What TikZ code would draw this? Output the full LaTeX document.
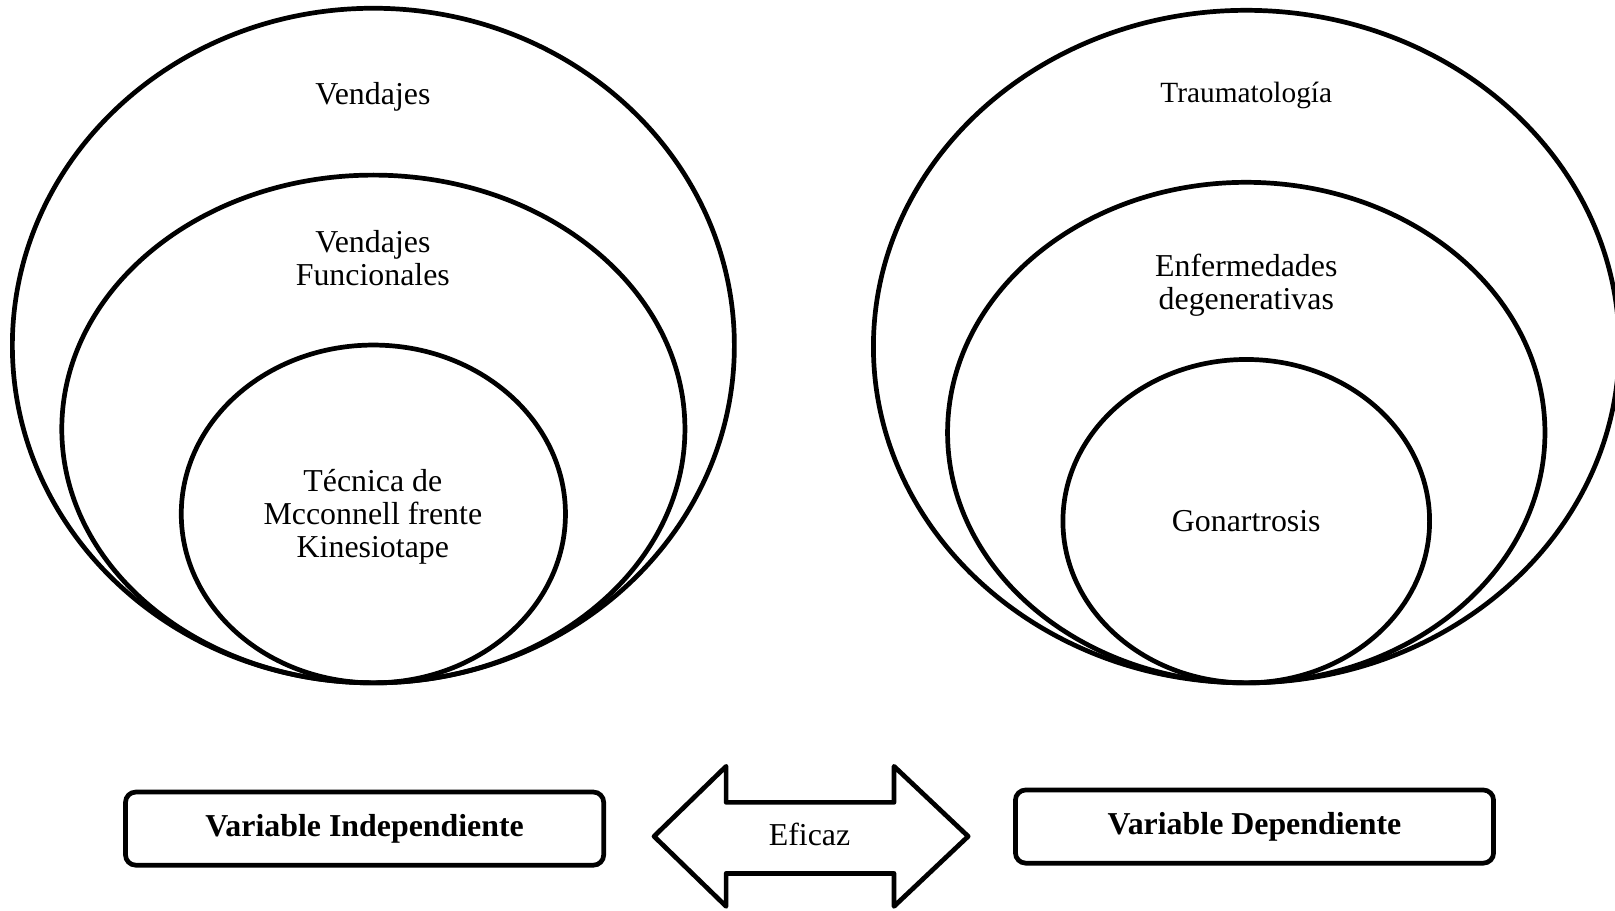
\documentclass[tikz,border=0pt]{standalone}
\usepackage{fontspec}
\setmainfont{Liberation Serif}

\begin{document}
\begin{tikzpicture}[x=0.01cm,y=-0.01cm,
		anillo/.style={line width=1.3pt},
		etiqueta/.style={align=center,font=\fontsize{8.8}{9.1}\selectfont},
		cajavar/.style={draw,line width=1.3pt,rounded corners=0.1cm,minimum width=4.64cm,minimum height=0.71cm,font=\fontsize{8.8}{10}\selectfont\bfseries}]
		\useasboundingbox (0,0) rectangle (1568,884);
		\draw[anillo] (362.5,335.5) ellipse [x radius=350.5, y radius=327.5];
		\draw[anillo] (362.5,416.5) ellipse [x radius=302.5, y radius=246.5];
		\draw[anillo] (362.5,499) ellipse [x radius=186.5, y radius=164];
		\draw[anillo] (1210,336.5) ellipse [x radius=362, y radius=326.5];
		\draw[anillo] (1210,420) ellipse [x radius=290, y radius=243];
		\draw[anillo] (1210,506) ellipse [x radius=178, y radius=157];
		\node[etiqueta] (vendajes) at (362,94) {Vendajes};
		\node[etiqueta] (funcionales) at (362,251) {Vendajes\\Funcionales};
		\node[etiqueta] (tecnica) at (362,502) {Técnica de\\Mcconnell frente\\Kinesiotape};
		\node[etiqueta,font=\fontsize{8.1}{9.1}\selectfont] (trauma) at (1210,93) {Traumatología};
		\node[etiqueta] (degenerativas) at (1210,277) {Enfermedades\\degenerativas};
		\node[etiqueta] (gonartrosis) at (1210,506) {Gonartrosis};
		\node[cajavar] (independiente) at (354,804.5) {\raisebox{-2pt}{Variable Independiente}};
		\node[cajavar] (dependiente) at (1218,802.5) {\raisebox{-1pt}{Variable Dependiente}};
		\draw[anillo,line join=round] (635,812) -- (705,744) -- (705,779) -- (868,779) -- (868,744) -- (940,812) -- (868,880) -- (868,848) -- (705,848) -- (705,880) -- cycle;
		\node[etiqueta] (eficaz) at (786,810) {Eficaz};
		\end{tikzpicture}
\end{document}
